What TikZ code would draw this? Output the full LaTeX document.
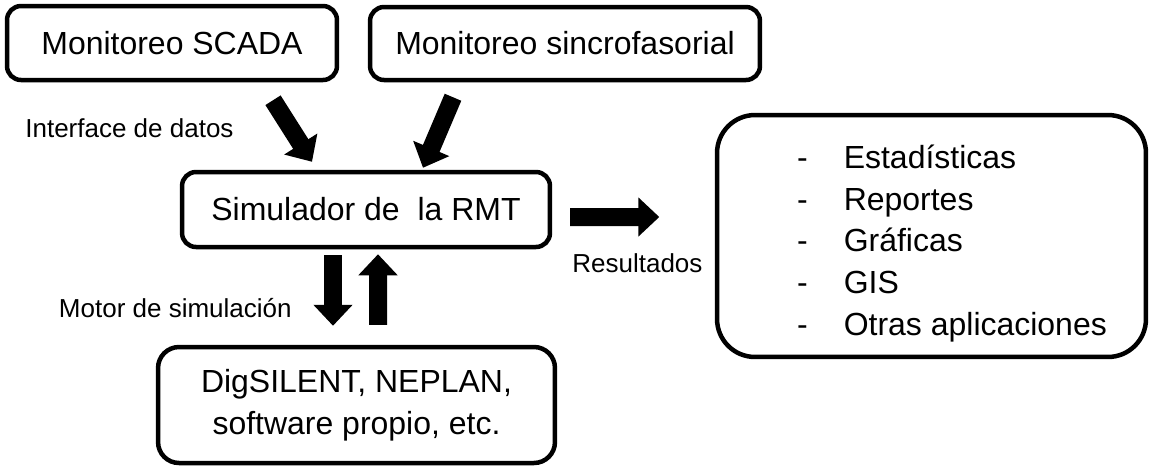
\documentclass[tikz,border=0pt]{standalone}
\usepackage{fontspec}
\setmainfont{Liberation Sans}
\usepackage{tikz}
\usetikzlibrary{arrows.meta, calc}

\newcommand{\letragrande}{\fontsize{18.2}{23.9}\selectfont}
\newcommand{\letrachica}{\fontsize{14.8}{18}\selectfont}

\tikzset{
  caja/.style={draw, line width=0.09cm, rounded corners=0.28cm,
               align=center, font=\letragrande},
  etiqueta/.style={inner sep=0pt, font=\letrachica},
  flecha/.style={line width=0.36cm, -{Triangle[width=0.76cm, length=0.42cm]}}
}

\begin{document}
\begin{tikzpicture}[x=0.02cm, y=-0.02cm]
  \useasboundingbox (0,0) rectangle (1151,468);

  % cajas
  \node[caja, minimum width=6.6cm, minimum height=1.48cm] (scada) at (172,43)
    {Monitoreo SCADA};
  \node[caja, minimum width=7.8cm, minimum height=1.46cm] (sincro) at (565,43.5)
    {Monitoreo sincrofasorial};
  \node[caja, minimum width=7.36cm, minimum height=1.5cm] (simulador) at (366,209.5)
    {Simulador de \ la RMT};
  \node[caja, minimum width=7.94cm, minimum height=2.32cm, rounded corners=0.42cm]
    (motor) at (356.5,405) {DigSILENT, NEPLAN,\\software propio, etc.};
  \node[caja, minimum width=8.58cm, minimum height=4.84cm, rounded corners=0.76cm]
    (salida) at (931.5,236) {};
  \node[inner sep=0pt, anchor=base west, font=\letragrande] (lista)
    at ($(salida.west)+(82,-68)$)
    {\begin{tabular}[t]{@{}l@{\hspace{0.72cm}}l@{}}
       - & Estadísticas\\
       - & Reportes\\
       - & Gráficas\\
       - & GIS\\
       - & Otras aplicaciones
     \end{tabular}};

  % flechas
  \draw[flecha] ($(scada.south)+(101,18)$) -- ($(simulador.north)+(-54,-8)$);
  \draw[flecha] ($(sincro.south)+(-112,15)$) -- ($(simulador.north)+(57,-2)$);
  \draw[flecha] ($(simulador.south)+(-33,6)$) -- ($(motor.north)+(-23.5,-19)$);
  \draw[flecha] ($(motor.north)+(21.5,-20)$) -- ($(simulador.south)+(12,5)$);
  \draw[flecha] ($(simulador.east)+(18,7.5)$) -- ($(salida.west)+(-55.5,-19)$);

  % etiquetas
  \node[etiqueta, anchor=base west] (interfaz) at (25,137) {Interface de datos};
  \node[etiqueta, anchor=base east] (motorlbl) at (292,317) {Motor de simulación};
  \node[etiqueta, anchor=base west] (resultados) at (572,272) {Resultados};
\end{tikzpicture}
\end{document}
